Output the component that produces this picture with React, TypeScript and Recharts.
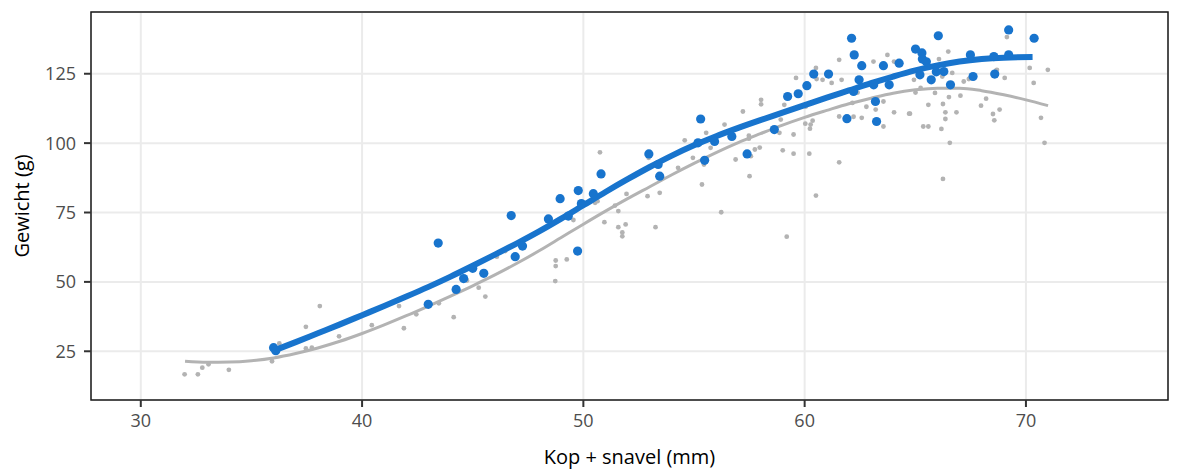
import React from "react";
import {
  ScatterChart,
  Scatter,
  XAxis,
  YAxis,
  CartesianGrid,
  ReferenceArea,
} from "recharts";

const xTicks = [30, 40, 50, 60, 70];
const yTicks = [25, 50, 75, 100, 125];
const xTitle = "Kop + snavel (mm)";
const yTitle = "Gewicht (g)";

const grayX = [
  31.98, 32.58, 32.78, 33.06, 33.98, 35.93, 36.26, 37.46, 37.46, 37.73, 38.09, 38.96,
  40.44, 41.89, 41.67, 42.45, 43.47, 44.14, 44.74, 45.27, 45.57, 46.09, 46.47, 48.73,
  48.75, 48.75, 49.25, 49.55, 50.53, 50.75, 50.95, 51.58, 51.76, 51.76, 51.91, 51.58,
  51.95, 51.43, 50.64, 52.9, 53.26, 53.45, 54.28, 54.58, 54.95, 55.36, 55.45, 55.75,
  55.55, 56.23, 56.38, 56.88, 57.21, 57.48, 57.48, 57.51, 57.75, 57.97, 58.03, 58.03,
  59.01, 59.19, 59.5, 59.5, 60.21, 60.27, 60.51, 61.56, 57.57, 52.95, 58.86, 60.03,
  60.24, 60.36, 60.51, 59.61, 61.56, 61.56, 62.21, 62.58, 63.56, 63.21, 62.79, 64.04,
  64.72, 63.56, 61.67, 61.22, 60.54, 62.16, 62.39, 63.11, 63.74, 64.04, 60.81, 60.05,
  59.08, 58.92, 66.49, 66.07, 69.14, 68.69, 69.04, 70.17, 70.99, 70.35, 70.68, 70.84,
  66.56, 66.25, 65.59, 65.36, 66.18, 66.36, 66.36, 66.86, 66.25, 65.59, 64.76, 65.01,
  65.89, 66.52, 67.04, 67.19, 66.67, 66.22, 67.42, 67.97, 68.2, 68.51, 68.57, 68.81,
  64.94, 65.24, 68.65,
];
const grayY = [
  16.7, 16.7, 19.1, 20.3, 18.3, 21.4, 27.8, 26.0, 33.8, 26.3, 41.3, 30.4,
  34.4, 33.3, 41.3, 38.3, 42.3, 37.3, 50.5, 47.9, 44.7, 59.1, 61.1, 50.3,
  55.7, 57.7, 58.1, 72.3, 78.5, 96.7, 71.5, 69.7, 67.8, 66.4, 70.7, 75.5,
  81.7, 77.5, 79.1, 80.9, 69.7, 82.1, 91.1, 101.0, 94.7, 85.1, 92.3, 98.3,
  103.7, 75.1, 106.7, 94.1, 111.4, 102.7, 101.6, 88.1, 97.7, 98.4, 114.0, 115.6,
  97.4, 66.3, 103.1, 96.2, 96.2, 106.7, 81.1, 93.1, 95.3, 94.7, 103.7, 107.0,
  105.2, 108.1, 127.1, 123.5, 130.0, 109.6, 109.5, 109.1, 106.0, 112.1, 113.1, 111.1,
  110.6, 115.0, 122.8, 121.7, 123.1, 114.5, 118.2, 129.4, 131.8, 129.4, 122.8, 113.2,
  113.8, 108.5, 133.0, 130.3, 138.2, 126.4, 123.5, 127.1, 126.4, 121.7, 109.1, 100.1,
  100.1, 87.1, 106.0, 106.0, 105.1, 108.7, 111.1, 111.1, 114.1, 113.8, 110.6, 118.2,
  118.1, 116.6, 117.1, 122.2, 125.3, 124.0, 123.1, 113.5, 116.0, 110.5, 108.2, 112.1,
  122.8, 119.9, 126.1,
];

const blueX = [
  36.0, 36.1, 42.99, 43.44, 44.25, 44.59, 45.0, 45.5, 46.74, 46.92, 47.25, 48.42,
  48.95, 49.32, 49.77, 49.74, 49.91, 50.45, 50.8, 52.96, 53.38, 53.45, 55.3, 55.18,
  55.93, 55.48, 56.71, 58.63, 57.4, 59.23, 59.71, 60.1, 60.41, 61.08, 62.12, 62.24,
  62.58, 61.91, 62.21, 62.46, 63.25, 63.2, 63.12, 63.56, 63.82, 64.27, 65.01, 65.32,
  66.04, 65.21, 65.72, 66.29, 66.59, 67.49, 67.61, 68.59, 69.22, 69.22, 70.37, 68.55,
  65.3, 65.5, 65.95,
];
const blueY = [
  26.3, 25.2, 41.9, 64.0, 47.3, 51.2, 54.9, 53.1, 73.9, 59.1, 62.9, 72.7,
  80.0, 73.7, 82.9, 61.1, 78.2, 81.8, 88.9, 96.1, 92.3, 88.1, 108.7, 100.1,
  100.6, 93.8, 102.4, 104.9, 96.1, 116.8, 117.8, 120.7, 124.9, 124.9, 137.8, 131.8,
  127.9, 108.8, 118.6, 122.8, 107.8, 115.0, 121.0, 127.9, 121.0, 128.8, 133.9, 130.3,
  138.7, 124.6, 122.8, 125.8, 121.0, 131.8, 124.0, 124.9, 140.8, 131.8, 137.8, 131.2,
  132.5, 129.3, 125.7,
];

const fitBlueX = [
  36.1, 37, 38, 39, 40, 41, 42, 43, 44, 45, 46, 47, 48, 49, 50, 51, 52, 53, 54, 55,
  56, 57, 58, 59, 60, 61, 62, 63, 64, 65, 66, 67, 68, 69, 70.3,
];
const fitBlueY = [
  25.5, 28.3, 31.5, 34.7, 38.0, 41.3, 44.7, 48.2, 51.9, 55.8, 59.8, 63.9, 68.2, 72.8, 77.6,
  82.4, 87.0, 91.4, 95.5, 99.2, 102.5, 105.5, 108.3, 111, 113.7, 116.4, 119, 121.6, 124,
  126.2, 128, 129.4, 130.3, 130.8, 131,
];

const fitGrayX = [
  32, 33, 34, 35, 36, 37, 38, 39, 40, 41, 42, 43, 44, 45, 46, 47, 48, 49, 50, 51, 52,
  53, 54, 55, 56, 57, 58, 59, 60, 61, 62, 63, 64, 65, 66, 67, 68, 69, 70, 71,
];
const fitGrayY = [
  21.4, 21, 21.1, 21.6, 22.6, 24.2, 26.2, 28.6, 31.4, 34.5, 37.8, 41.3, 44.9, 48.6, 52.5,
  56.7, 61.2, 66, 70.8, 75.5, 80, 84.3, 88.6, 92.7, 96.6, 100.2, 103.4, 106.5, 109.3, 111.8,
  114.2, 116.2, 118, 119.2, 119.8, 119.8, 118.9, 117.4, 115.6, 113.5,
];

const toPoints = (xs: number[], ys: number[]) => xs.map((x, i) => ({ x, y: ys[i] }));

const grayData = toPoints(grayX, grayY);
const blueData = toPoints(blueX, blueY);
const fitBlue = toPoints(fitBlueX, fitBlueY);
const fitGray = toPoints(fitGrayX, fitGrayY);

const X_DOMAIN: [number, number] = [27.75, 76.42];
const Y_DOMAIN: [number, number] = [7.44, 147.25];

const GrayDot = (p: any) => <circle cx={p.cx} cy={p.cy} r={2.4} fill="#b3b3b3" />;
const BlueDot = (p: any) => <circle cx={p.cx} cy={p.cy} r={4.6} fill="#1874CD" />;
const NoDot = () => <g />;

const tickStyle = { fill: "#4d4d4d", fontSize: 18, fontFamily: "'Open Sans', sans-serif" };

export default function App() {
  return (
    <div style={{ position: "relative", width: 1176, height: 461 }}>
      <ScatterChart
        width={1176}
        height={461}
        margin={{ top: 4, right: 16, bottom: 0, left: 0 }}
      >
        <CartesianGrid stroke="#ebebeb" strokeWidth={2} horizontal vertical />
        <XAxis
          type="number"
          dataKey="x"
          domain={X_DOMAIN}
          ticks={xTicks}
          allowDataOverflow
          height={69}
          tickSize={7}
          tickMargin={7}
          tickLine={{ stroke: "#333333", strokeWidth: 2 }}
          axisLine={false}
          tick={tickStyle}
        />
        <YAxis
          type="number"
          dataKey="y"
          domain={Y_DOMAIN}
          ticks={yTicks}
          allowDataOverflow
          width={83}
          tickSize={7}
          tickMargin={8}
          tickLine={{ stroke: "#333333", strokeWidth: 2 }}
          axisLine={false}
          tick={tickStyle}
        />
        <Scatter data={grayData} shape={GrayDot} isAnimationActive={false} />
        <Scatter
          data={fitGray}
          shape={NoDot}
          line={{ stroke: "#b3b3b3", strokeWidth: 3 }}
          lineJointType="monotoneX"
          isAnimationActive={false}
        />
        <Scatter
          data={fitBlue}
          shape={NoDot}
          line={{ stroke: "#1874CD", strokeWidth: 6 }}
          lineJointType="monotoneX"
          isAnimationActive={false}
        />
        <Scatter data={blueData} shape={BlueDot} isAnimationActive={false} />
        <ReferenceArea
          x1={X_DOMAIN[0]}
          x2={X_DOMAIN[1]}
          y1={Y_DOMAIN[0]}
          y2={Y_DOMAIN[1]}
          fill="none"
          fillOpacity={0}
          stroke="#1a1a1a"
          strokeWidth={1.5}
          ifOverflow="visible"
        />
      </ScatterChart>
      <div
        style={{
          position: "absolute",
          left: 0,
          width: 1176,
          top: 435,
          paddingLeft: 83,
          paddingRight: 16,
          boxSizing: "border-box",
          textAlign: "center",
          fontFamily: "'Open Sans', sans-serif",
          fontSize: 20,
          color: "#000",
          lineHeight: "28px",
        }}
      >
        {xTitle}
      </div>
      <div
        style={{
          position: "absolute",
          left: 14 - 100,
          top: 198 - 14,
          width: 200,
          height: 28,
          transform: "rotate(-90deg)",
          textAlign: "center",
          fontFamily: "'Open Sans', sans-serif",
          fontSize: 20,
          color: "#000",
          lineHeight: "28px",
        }}
      >
        {yTitle}
      </div>
    </div>
  );
}
